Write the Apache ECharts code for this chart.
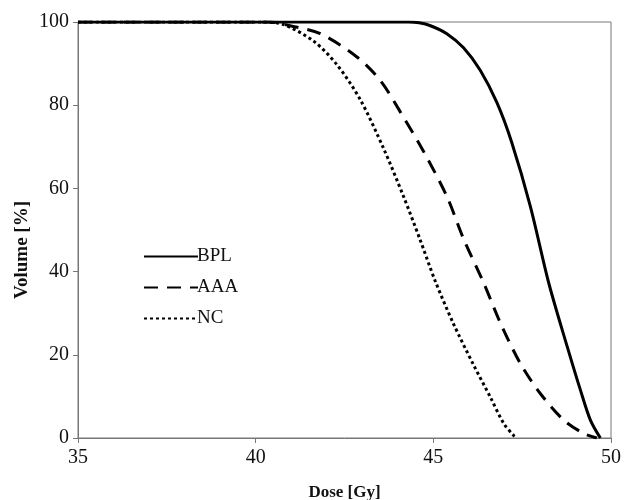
<!DOCTYPE html>
<html><head><meta charset="utf-8">
<script src="https://cdn.jsdelivr.net/npm/echarts@6/dist/echarts.min.js"></script>
<style>html,body{margin:0;padding:0;background:#fff}#c{width:626px;height:500px}</style>
</head><body><div id="c"></div>
<script>
var seriesNames = ['BPL', 'AAA', 'NC'];
var xTicks = [35, 40, 45, 50];
var yTicks = [0, 20, 40, 60, 80, 100];
var bplData = [[35,100],[44.3,100],[44.6,99.8],[44.92,99.1],[45.38,97.2],[45.85,93.8],[46.32,88.4],[46.79,80.6],[47.2,71.2],[47.73,55.7],[48.25,37.2],[48.77,21.9],[49.14,11.5],[49.42,4.3],[49.7,0]];
var aaaData = [[35,100],[40.4,100],[40.97,99.1],[41.82,97.2],[42.85,91.6],[43.51,85.9],[44.07,78.4],[44.73,68.8],[45.38,58.1],[45.85,47.9],[46.42,37.2],[46.89,27.6],[47.45,17.9],[48.01,10.7],[48.67,4.3],[49.23,1.1],[49.6,0]];
var ncData = [[35,100],[40.2,100],[40.78,99.4],[41.63,95.4],[42.28,89.8],[42.94,81.4],[43.6,69.6],[44.16,58.1],[44.63,47.6],[45.05,37.8],[45.57,27.4],[46.13,17.6],[46.6,9.9],[46.98,3.5],[47.26,0.6],[47.35,0]];

var font = '"Liberation Serif", "DejaVu Serif", serif';
var chart = echarts.init(document.getElementById('c'));
function mk(name, data, type) {
  return {
    name: name, type: 'line', data: data, smooth: 0.3, showSymbol: false, symbol: 'none',
    lineStyle: { color: '#000', width: 3, type: type, cap: 'butt' },
    itemStyle: { color: '#000' }
  };
}
chart.setOption({
  animation: false,
  backgroundColor: '#fff',
  grid: { left: 78, right: 15, top: 22, bottom: 62, show: true, borderColor: '#777', borderWidth: 1, containLabel: false, outerBoundsMode: 'none' },
  legend: {
    orient: 'vertical', left: 138, top: 242, itemWidth: 54, itemHeight: 14, itemGap: 12,
    itemStyle: { opacity: 0 },
    textStyle: { fontFamily: font, fontSize: 19, color: '#111', padding: [0,0,0,-6] },
    data: seriesNames
  },
  graphic: [{
    type: 'text', x: 22, y: 250, rotation: Math.PI / 2,
    style: { text: 'Volume [%]', font: 'bold 19px "Liberation Serif", serif', fill: '#111', textAlign: 'center', textVerticalAlign: 'middle' }
  }],
  xAxis: {
    type: 'value', min: xTicks[0], max: xTicks[xTicks.length-1], interval: 5,
    name: 'Dose [Gy]', nameLocation: 'middle', nameGap: 46,
    nameTextStyle: { fontFamily: font, fontSize: 17, fontWeight: 'bold', color: '#111' },
    axisLine: { lineStyle: { color: '#777', width: 1 } },
    axisTick: { show: true, length: 5, lineStyle: { color: '#777' } },
    axisLabel: { fontFamily: font, fontSize: 20, color: '#111', margin: 10 },
    splitLine: { show: false }
  },
  yAxis: {
    type: 'value', min: yTicks[0], max: yTicks[yTicks.length-1], interval: 20,
    axisLine: { show: true, lineStyle: { color: '#777', width: 1 } },
    axisTick: { show: true, length: 5, lineStyle: { color: '#777' } },
    axisLabel: { fontFamily: font, fontSize: 20, color: '#111', margin: 9 },
    splitLine: { show: false }
  },
  series: [
    mk(seriesNames[0], bplData, 'solid'),
    mk(seriesNames[1], aaaData, [14, 9]),
    mk(seriesNames[2], ncData, [3, 3])
  ]
});
</script></body></html>
